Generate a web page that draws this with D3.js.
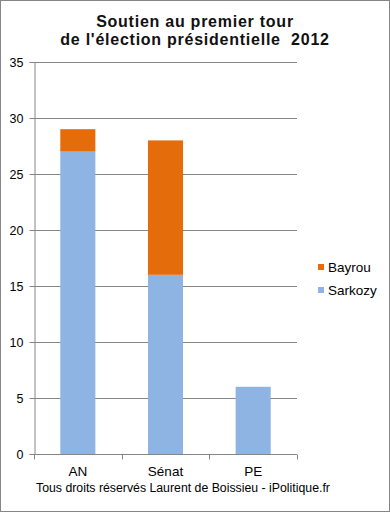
<!DOCTYPE html>
<html>
<head>
<meta charset="utf-8">
<script src="https://cdn.jsdelivr.net/npm/d3@7"></script>
<style>
  body { margin: 0; background: #fff; }
  text { font-family: "Liberation Sans", Arial, sans-serif; }
</style>
</head>
<body>
<div id="chart"></div>
<script>
// Data
var categories = ["AN", "Sénat", "PE"];
var sarkozy = [27, 16, 6];
var bayrou = [2, 12, 0];
var seriesNames = ["Sarkozy", "Bayrou"];
var yTicks = [0, 5, 10, 15, 20, 25, 30, 35];

function init() {
    var w = 390, h = 512;
    var left = 34, right = 297, top = 62, bottom = 454;

    var svg = d3.select("#chart").append("svg")
        .attr("width", w)
        .attr("height", h);

    // outer frame
    svg.append("rect")
        .attr("x", 0.5).attr("y", 0.5)
        .attr("width", w - 1).attr("height", h - 1)
        .attr("fill", "#fff")
        .attr("stroke", "#868686");

    var colors = { Sarkozy: "#8EB4E3", Bayrou: "#E46C0A" };

    var dataset = categories.map(function(c, i) {
        return { cat: c, Sarkozy: sarkozy[i], Bayrou: bayrou[i] };
    });
    var series = d3.stack().keys(seriesNames)(dataset);

    var xScale = d3.scaleBand()
        .domain(categories)
        .range([left, right])
        .paddingInner(0.6)
        .paddingOuter(0.3);

    var yScale = d3.scaleLinear()
        .domain([0, 35])
        .range([bottom, top]);

    // gridlines
    svg.append("g")
        .selectAll("line")
        .data(yTicks)
        .enter()
        .append("line")
        .attr("x1", left).attr("x2", right)
        .attr("y1", function(d) { return Math.round(yScale(d)) + 0.5; })
        .attr("y2", function(d) { return Math.round(yScale(d)) + 0.5; })
        .attr("stroke", "#868686");

    // bars
    svg.selectAll("g.layer")
        .data(series)
        .enter()
        .append("g")
        .attr("class", "layer")
        .attr("fill", function(d) { return colors[d.key]; })
        .selectAll("rect")
        .data(function(d) { return d; })
        .enter()
        .append("rect")
        .attr("x", function(d) { return xScale(d.data.cat); })
        .attr("y", function(d) { return yScale(d[1]); })
        .attr("height", function(d) { return yScale(d[0]) - yScale(d[1]); })
        .attr("width", xScale.bandwidth());

    // y axis
    var yAxis = svg.append("g")
        .attr("transform", "translate(" + (left + 0.5) + ",0)")
        .call(d3.axisLeft(yScale).tickValues(yTicks).tickSize(5).tickPadding(6));
    yAxis.select(".domain").attr("stroke", "#868686");
    yAxis.selectAll(".tick line").attr("stroke", "#868686");
    yAxis.selectAll("text").attr("font-size", "12.5px").attr("fill", "#000")
        .style("font-family", "Liberation Sans, Arial, sans-serif");

    // x axis, ticks sit between categories
    var xAxis = svg.append("g")
        .attr("transform", "translate(0," + (bottom + 0.5) + ")");
    xAxis.append("line")
        .attr("x1", left).attr("x2", right)
        .attr("stroke", "#868686");
    var edges = [0, 1, 2, 3].map(function(i) {
        return left + (right - left) * i / categories.length;
    });
    xAxis.selectAll("line.tk")
        .data(edges)
        .enter()
        .append("line")
        .attr("class", "tk")
        .attr("x1", function(d) { return Math.round(d) + 0.5; })
        .attr("x2", function(d) { return Math.round(d) + 0.5; })
        .attr("y1", 0).attr("y2", 5)
        .attr("stroke", "#868686");
    xAxis.selectAll("text")
        .data(categories)
        .enter()
        .append("text")
        .attr("x", function(d) { return xScale(d) + xScale.bandwidth() / 2; })
        .attr("y", 21)
        .attr("text-anchor", "middle")
        .attr("font-size", "13.5px")
        .text(function(d) { return d; });

    // title (two separate lines)
    var titleLines = ["Soutien au premier tour", "de l'élection présidentielle  2012"];
    svg.selectAll("text.title")
        .data(titleLines)
        .enter()
        .append("text")
        .attr("class", "title")
        .attr("x", 195)
        .attr("y", function(d, i) { return 26.5 + i * 18.5; })
        .attr("text-anchor", "middle")
        .attr("font-size", "16px")
        .attr("font-weight", "bold")
        .attr("letter-spacing", "0.75px")
        .attr("fill", "#111")
        .style("white-space", "pre")
        .text(function(d) { return d; });

    // legend
    var legend = svg.append("g").attr("transform", "translate(318,264)");
    var legendEntries = legend.selectAll("g.legend")
        .data(["Bayrou", "Sarkozy"])
        .enter()
        .append("g")
        .attr("class", "legend")
        .attr("transform", function(d, i) { return "translate(0," + i * 23 + ")"; });
    legendEntries.append("rect")
        .attr("width", 6).attr("height", 6)
        .attr("fill", function(d) { return colors[d]; });
    legendEntries.append("text")
        .attr("x", 10).attr("y", 8)
        .attr("font-size", "13.5px")
        .text(function(d) { return d; });

    // footer
    svg.append("text")
        .attr("x", 36).attr("y", 492)
        .attr("font-size", "12.3px")
        .text("Tous droits réservés Laurent de Boissieu - iPolitique.fr");
}

window.onload = init;
</script>
</body>
</html>
